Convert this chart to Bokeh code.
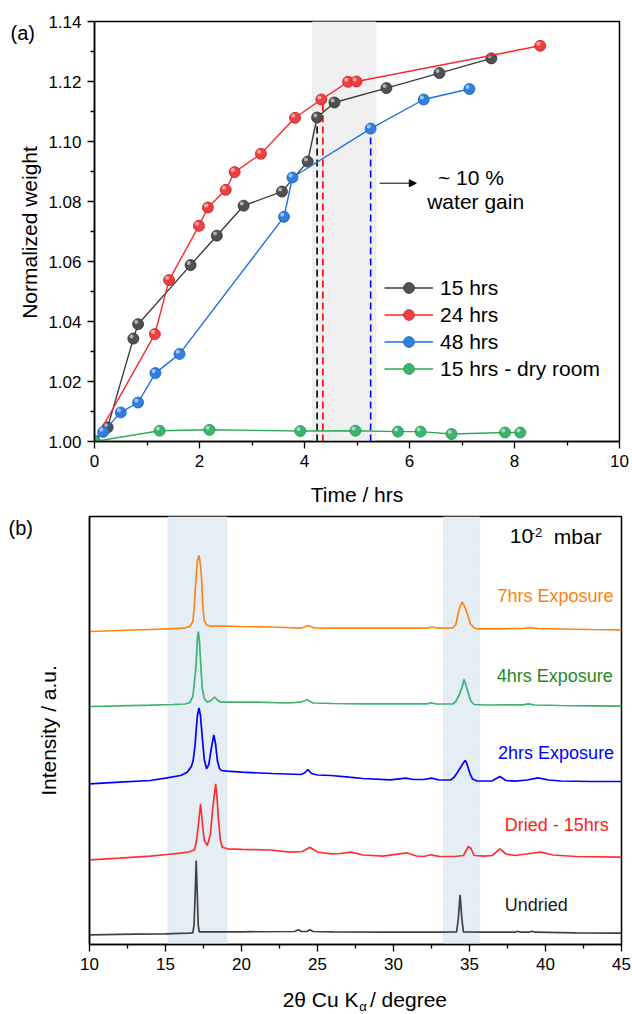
import math
from bokeh.plotting import figure
from bokeh.layouts import column, row
from bokeh.models import (BoxAnnotation, Legend, LegendItem, Arrow, NormalHead, Label,
                          FixedTicker, NumeralTickFormatter, ColumnDataSource)
from bokeh.embed import file_html
from bokeh.resources import INLINE
from bokeh.transform import dodge

FONT = "Liberation Sans"

# ---------------- Panel (a): normalized weight vs time ----------------
t_15h = [0, 0.25, 0.74, 0.83, 1.83, 2.33, 2.84, 3.57, 4.06, 4.24, 4.57, 5.56, 6.57, 7.56]
w_15h = [1.000, 1.0047, 1.0343, 1.0391, 1.0588, 1.0686, 1.0786, 1.0833, 1.0933, 1.1080,
         1.1130, 1.1178, 1.1228, 1.1277]
t_24h = [0, 1.15, 1.42, 1.99, 2.16, 2.50, 2.67, 3.17, 3.82, 4.32, 4.83, 4.99, 8.49]
w_24h = [1.000, 1.0358, 1.0538, 1.0719, 1.0780, 1.0839, 1.0898, 1.0959, 1.1079, 1.1140,
         1.1199, 1.1200, 1.1319]
t_48h = [0, 0.165, 0.50, 0.83, 1.16, 1.62, 3.61, 3.77, 5.26, 6.27, 7.14]
w_48h = [1.000, 1.0032, 1.0097, 1.0130, 1.0228, 1.0292, 1.0749, 1.0880, 1.1043, 1.1140, 1.1175]
t_dry = [0, 1.24, 2.19, 3.92, 4.97, 5.78, 6.21, 6.80, 7.82, 8.11]
w_dry = [1.000, 1.0036, 1.0039, 1.0035, 1.0036, 1.0033, 1.0033, 1.0025, 1.0030, 1.0030]

series_names = ["15 hrs", "24 hrs", "48 hrs", "15 hrs - dry room"]
gain_t = [4.24, 4.35, 5.26]
gain_w = [1.108, 1.114, 1.1043]
shade_a = [4.15, 5.36]
arrow_t = [5.43, 6.13]
arrow_w = 1.0861
x_ticks_a = [0, 2, 4, 6, 8, 10]
y_ticks_a = [1.00, 1.02, 1.04, 1.06, 1.08, 1.10, 1.12, 1.14]

# ---------------- Panel (b): XRD patterns (stacked, a.u.) ----------------
x_7h = [10, 12, 14, 15.2, 16.2, 16.6, 16.8, 16.9, 17.0, 17.1, 17.2, 17.3, 17.38, 17.46, 17.55,
        17.7, 18.0, 19.0, 20.0, 22.0, 23.9, 24.4, 24.8, 26, 28, 30, 32.2, 32.55, 32.9, 33.5,
        33.9, 34.1, 34.25, 34.4, 34.53, 34.65, 34.86, 35.05, 35.3, 35.6, 37, 38.5, 39.0,
        39.5, 41, 43, 45]
y_7h = [313, 314, 315, 315.7, 316.3, 318, 323, 338, 364, 384, 389, 380, 364, 337, 324,
        319.5, 318.3, 318.3, 318, 317.5, 316.3, 319, 316.5, 316.3, 316.3, 316.3, 316.3, 317.5,
        316.3, 316.3, 316.5, 320, 330.7, 339, 342.3, 339, 330.7, 321, 316.5, 315.7, 315.7,
        316, 316.8, 315.8, 315.5, 315, 314.7]

x_4h = [10, 12, 14, 15.5, 16.3, 16.6, 16.8, 16.9, 17.0, 17.1, 17.16, 17.23, 17.33, 17.42,
        17.55, 17.75, 18.0, 18.23, 18.45, 18.65, 19.5, 21, 23, 23.9, 24.3, 24.7, 26, 28, 30,
        32.2, 32.5, 32.8, 33.7, 33.9, 34.1, 34.36, 34.5, 34.64, 34.75, 34.93, 35.1, 35.3, 36,
        38.5, 38.9, 39.3, 41, 43, 45]
y_4h = [238, 238.7, 239.3, 240, 240.5, 242, 248, 262, 277, 306, 313, 304, 277, 256,
        246, 242.3, 244, 247.3, 244, 242.3, 242.5, 242.3, 241.5, 242.3, 244.7, 241.5, 241,
        240.7, 240.7, 240.7, 241.7, 240.5, 240.5, 240.5, 243, 250.7, 257, 265, 260, 250.7,
        243, 240, 239.5, 239.7, 240.7, 239.5, 239, 238.7, 238.3]

x_2h = [10, 12, 14, 15.1, 16.0, 16.43, 16.7, 16.82, 16.95, 17.0, 17.1, 17.2, 17.3, 17.42,
        17.55, 17.7, 17.85, 18.0, 18.18, 18.3, 18.41, 18.55, 18.67, 19.06, 20, 22, 23.9,
        24.15, 24.37, 24.6, 25, 25.9, 27.07, 28, 29.8, 30.8, 31.3, 32.0, 32.5, 33.0, 33.77,
        34.0, 34.2, 34.42, 34.55, 34.71, 34.8, 34.93, 35.05, 35.2, 35.5, 36.5, 37.0, 37.4,
        38, 38.8, 39.5, 40.2, 41, 43, 45]
y_2h = [160.7, 162.3, 164, 166.7, 169, 172.3, 178, 184, 200, 210.7, 229, 236.7, 229, 207,
        185, 175.7, 180, 195, 209.7, 200, 184, 176, 174, 173.3, 172.3, 171, 170,
        171.5, 175, 171, 169.5, 169, 167.3, 166, 164.7, 166.3, 165, 165, 166.3, 164.5, 164.7,
        167.5, 172, 177.3, 180.5, 184, 182, 175.7, 170, 165.5, 163.5, 163.7, 168, 164,
        163.3, 164.5, 166.7, 164.5, 163.5, 163, 163]

x_dried = [10, 12, 14, 15.1, 16.0, 16.5, 16.8, 16.91, 17.05, 17.18, 17.31, 17.42, 17.55,
           17.75, 17.95, 18.1, 18.3, 18.4, 18.47, 18.6, 18.74, 19.06, 20, 21.9, 23.2, 24.0,
           24.5, 25.0, 25.9, 26.5, 27.2, 28.0, 29.3, 30.87, 31.5, 32.0, 32.45, 33.0, 34.0,
           34.6, 34.93, 35.1, 35.3, 36.0, 36.5, 37.0, 37.4, 38.0, 39.0, 39.7, 40.5, 42, 45]
y_dried = [84.7, 86.3, 88.3, 90, 91.3, 92.5, 94, 94.5, 105, 122, 140.7, 122, 104,
           99, 110, 135, 160.7, 145, 127.3, 105, 97.3, 95.7, 95.2, 94.5, 92.3, 93,
           97.3, 92.5, 90.7, 91, 92.3, 89.5, 88.3, 91.7, 88.5, 88, 89.7, 88.2, 88,
           89, 98, 96, 89, 88.3, 89, 95.7, 90.5, 89, 91, 92.3, 89.5, 88, 87.3]

x_undried = [10, 13, 15, 16.5, 16.8, 16.88, 16.95, 17.02, 17.09, 17.15, 17.22, 18, 20, 23.5,
             23.74, 23.95, 24.3, 24.5, 24.7, 26, 30, 33, 34.15, 34.26, 34.38, 34.5, 34.6, 36,
             38.0, 38.16, 38.35, 38.9, 39.1, 39.3, 42, 45]
y_undried = [9.7, 10.3, 10.7, 11.3, 11.7, 20, 50, 84, 50, 20, 12.7, 12.7, 12.7, 13,
             14.7, 13, 13, 14.7, 13, 12.7, 12.3, 12.3, 12.7, 25, 49.7, 25, 12.7, 12.3,
             12.3, 13.3, 12.3, 12.3, 13.3, 12.3, 11.7, 11.3]

trace_labels = ["7hrs Exposure", "4hrs Exposure", "2hrs Exposure", "Dried - 15hrs", "Undried"]
shade_b1 = [15.15, 19.05]
shade_b2 = [33.28, 35.67]
x_ticks_b = [10, 15, 20, 25, 30, 35, 40, 45]


def style_axes(p, tick_size="17px"):
    p.grid.visible = False
    p.outline_line_color = "black"
    p.outline_line_width = 1.5
    p.background_fill_color = "white"
    p.border_fill_color = "white"
    for ax in (p.xaxis[0], p.yaxis[0]):
        ax.axis_line_color = "black"
        ax.axis_line_width = 1.5
        ax.major_tick_line_color = "black"
        ax.minor_tick_line_color = "black"
        ax.major_tick_line_width = 1.3
        ax.minor_tick_line_width = 1.3
        ax.major_tick_in = 0
        ax.major_tick_out = 7
        ax.minor_tick_in = 0
        ax.minor_tick_out = 4
        ax.major_label_text_font = FONT
        ax.major_label_text_font_size = tick_size
        ax.major_label_text_color = "black"
        ax.major_label_standoff = 6
        ax.axis_label_text_font = FONT
        ax.axis_label_text_font_size = "21px"
        ax.axis_label_text_font_style = "normal"
        ax.axis_label_text_color = "black"


def text_panel(w, h, x_range=None, **kw):
    """A bare figure (no axes, no outline) used only to hold text outside the plot frames."""
    fp = figure(x_range=x_range if x_range is not None else (0, w), y_range=(0, h),
                x_axis_location=None, y_axis_location=None, toolbar_location=None,
                title=None, output_backend="svg", **kw)
    fp.outline_line_color = None
    fp.background_fill_color = "white"
    fp.border_fill_color = "white"
    fp.grid.visible = False
    return fp


def txt(fp, x, y, s, size="21px", color="black", align="left", angle=0.0):
    fp.add_layout(Label(x=x, y=y, text=s, text_align=align, text_baseline="middle", angle=angle,
                        text_font=FONT, text_font_size=size, text_color=color))


# ======================= Figure (a) =======================
A_TOP, A_H, A_BOTTOM = 21, 420, 67
p1 = figure(frame_width=525, frame_height=A_H, x_range=(0, 10), y_range=(1.0, 1.14),
            min_border_left=50, min_border_right=13, min_border_top=A_TOP, min_border_bottom=A_BOTTOM,
            output_backend="svg", toolbar_location=None)
style_axes(p1)
p1.xaxis.ticker = FixedTicker(ticks=x_ticks_a, minor_ticks=[v + 1 for v in x_ticks_a[:-1]])
p1.yaxis.ticker = FixedTicker(ticks=y_ticks_a, minor_ticks=[round(v + 0.01, 2) for v in y_ticks_a[:-1]])
p1.yaxis.formatter = NumeralTickFormatter(format="0.00")
p1.xaxis.axis_label = "Time / hrs"
p1.xaxis.axis_label_standoff = 13

p1.add_layout(BoxAnnotation(left=shade_a[0], right=shade_a[1], fill_color="#f0f0f0", fill_alpha=1,
                            line_color="#d6d6d6", line_width=1, level="underlay"))

ymin_a = p1.y_range.start
p1.segment(x0=gain_t, y0=[ymin_a] * len(gain_t), x1=gain_t, y1=gain_w,
           line_color=["black", "#ff0000", "#0000ff"], line_width=1.6, line_dash="7 4")

specs = [
    (t_15h, w_15h, "#3c3c3c", "#505050", "#2e2e2e"),
    (t_24h, w_24h, "#f42a2a", "#ee4040", "#c82020"),
    (t_48h, w_48h, "#1f70e0", "#2f7fe0", "#1a5fc0"),
    (t_dry, w_dry, "#2eaa60", "#3cb46e", "#23905a"),
]
items = []
for (tt, ww, lc, fc, oc), name in zip(specs, series_names):
    src = ColumnDataSource(dict(t=tt, w=ww))
    ln = p1.line("t", "w", source=src, line_color=lc, line_width=1.4)
    sc = p1.scatter("t", "w", source=src, size=11, fill_color=fc, line_color=oc, line_width=0.8)
    p1.scatter(dodge("t", -0.035), dodge("w", 0.0007), source=src, size=4,
               fill_color="white", fill_alpha=0.55, line_alpha=0)
    items.append(LegendItem(label=name, renderers=[ln, sc]))

legend = Legend(items=items, location=(290, 59), glyph_width=49, glyph_height=27,
                label_height=27, spacing=0, padding=0, margin=0, label_standoff=7,
                border_line_alpha=0, background_fill_alpha=0,
                label_text_font=FONT, label_text_font_size="21px", label_text_color="black")
p1.add_layout(legend)

p1.add_layout(Arrow(end=NormalHead(size=7, fill_color="black", line_color="black"),
                    x_start=arrow_t[0], y_start=arrow_w, x_end=arrow_t[1], y_end=arrow_w,
                    line_color="black", line_width=1))
txt(p1, 7.17, 1.0879, "~ 10 %", align="center")
txt(p1, 7.26, 1.0800, "water gain", align="center")

# left text strip for (a): same frame rows as p1 (y measured up from p1's frame bottom)
pa = text_panel(44, A_H, frame_width=44, frame_height=A_H, min_border_left=0, min_border_right=0,
                min_border_top=A_TOP, min_border_bottom=A_BOTTOM)
txt(pa, 10, A_H - 11.5, "(a)", size="20px")
txt(pa, 29, A_H / 2 - 1, "Normalized weight", align="center", angle=math.pi / 2)

# ======================= Figure (b) =======================
B_TOP, B_H, B_BOTTOM = 8, 428, 38
p2 = figure(frame_width=532, frame_height=B_H, x_range=(10, 45), y_range=(0, B_H),
            min_border_left=29, min_border_right=11, min_border_top=B_TOP, min_border_bottom=B_BOTTOM,
            output_backend="svg", toolbar_location=None)
style_axes(p2)
p2.xaxis.ticker = FixedTicker(ticks=x_ticks_b, minor_ticks=[v + 2.5 for v in x_ticks_b[:-1]])
p2.xaxis.axis_label_standoff = 0
p2.yaxis.ticker = FixedTicker(ticks=[], minor_ticks=[])
p2.yaxis.major_tick_out = 0
p2.yaxis.minor_tick_out = 0
p2.yaxis.major_label_standoff = 0

for sh in (shade_b1, shade_b2):
    p2.add_layout(BoxAnnotation(left=sh[0], right=sh[1], fill_color="#e5edf5", fill_alpha=1,
                                line_color="#9aa0a8", line_width=1, line_dash="1 2", level="underlay"))

traces = [
    (x_7h, y_7h, "#ff8516", "#ff7f0e", 36.84, 349),
    (x_4h, y_4h, "#3cb371", "#1f8a1f", 36.79, 268.3),
    (x_2h, y_2h, "#0000ff", "#0000ff", 36.88, 191.7),
    (x_dried, y_dried, "#ff3030", "#ff2020", 37.32, 119.7),
    (x_undried, y_undried, "#404040", "#1a1a1a", 37.32, 40),
]
for (xx, yy, lc, tc, lx, ly), name in zip(traces, trace_labels):
    p2.line(xx, yy, line_color=lc, line_width=1.7)
    txt(p2, lx, ly, name, size="18px", color=tc)

txt(p2, 37.65, 408.5, "10")
txt(p2, 39.03, 412, "-2", size="13px")
txt(p2, 40.55, 408.5, "mbar")

pb = text_panel(60, B_H, frame_width=60, frame_height=B_H, min_border_left=0, min_border_right=0,
                min_border_top=B_TOP, min_border_bottom=B_BOTTOM)
txt(pb, 8, B_H - 11.5, "(b)", size="20px")
txt(pb, 48, B_H / 2, "Intensity / a.u.", align="center", angle=math.pi / 2)

# bottom strip holding the x-axis title of (b), sharing its x scale
C_H = 1014 - (B_TOP + B_H + B_BOTTOM + A_TOP + A_H + A_BOTTOM)
p3 = text_panel(532, C_H, x_range=p2.x_range, frame_width=532, frame_height=C_H,
                min_border_left=89, min_border_right=11, min_border_top=0, min_border_bottom=0)
txt(p3, 27.7, 14.6, "2θ Cu K", align="right")
txt(p3, 27.75, 7.6, "α", size="13px")
txt(p3, 28.45, 14.6, "/ degree")

layout = column(row(pa, p1, spacing=0), row(pb, p2, spacing=0), p3, spacing=0)
open("out.html", "w").write(file_html(layout, INLINE))
